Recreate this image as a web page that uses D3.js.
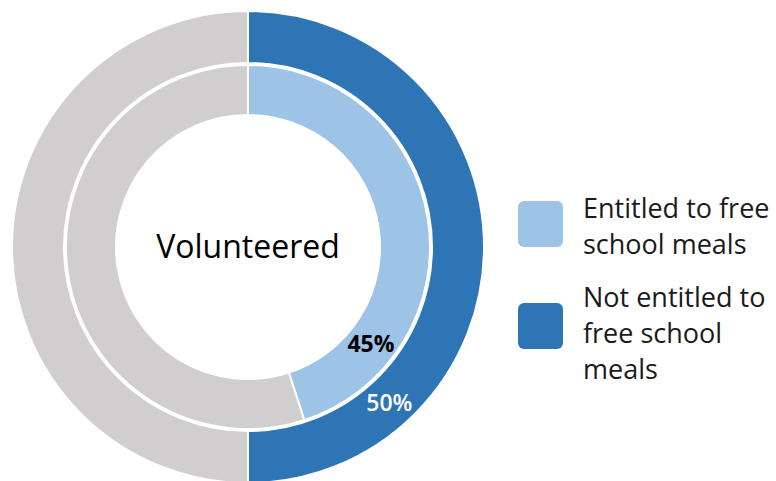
<!DOCTYPE html>
<html>
<head>
<meta charset="utf-8">
<script src="https://cdn.jsdelivr.net/npm/d3@7"></script>
<style>
  body { margin: 0; background: #fff; }
  text { font-family: "Open Sans", sans-serif; }
</style>
</head>
<body>
<div id="chart"></div>
<script>
// data
const outerLabels = ["Not entitled to free school meals", "Other"];
const outerValues = [50, 50];
const innerLabels = ["Entitled to free school meals", "Other"];
const innerValues = [45, 55];
const centerTitle = "Volunteered";
const legendLabels = [["Entitled to free", "school meals"], ["Not entitled to", "free school", "meals"]];

const W = 776, H = 481;
const cx = 248, cy = 247;
const colors = { light: "#9dc3e6", dark: "#2e75b6", grey: "#d0cecf" };

const svg = d3.select("#chart").append("svg")
    .attr("width", W)
    .attr("height", H);

const g = svg.append("g").attr("transform", `translate(${cx}, ${cy})`);

const pie = d3.pie().sort(null).value(d => d);

// outer ring
const outerArc = d3.arc().innerRadius(184).outerRadius(236);
const outerData = pie(outerValues);
g.selectAll(".outer")
    .data(outerData)
    .enter()
    .append("path")
    .attr("class", "outer")
    .attr("d", outerArc)
    .attr("fill", (d, i) => i === 0 ? colors.dark : colors.grey)
    .attr("stroke", "#fff")
    .attr("stroke-width", 2);

// inner ring
const innerArc = d3.arc().innerRadius(132).outerRadius(182);
const innerData = pie(innerValues);
g.selectAll(".inner")
    .data(innerData)
    .enter()
    .append("path")
    .attr("class", "inner")
    .attr("d", innerArc)
    .attr("fill", (d, i) => i === 0 ? colors.light : colors.grey)
    .attr("stroke", "#fff")
    .attr("stroke-width", 2);

// data labels, placed near the end of each coloured slice
function labelPos(d, r, frac) {
    const a = d.startAngle + (d.endAngle - d.startAngle) * frac;
    return [Math.sin(a) * r, -Math.cos(a) * r];
}

const p45 = labelPos(innerData[0], 156, 0.79);
g.append("text")
    .attr("x", p45[0])
    .attr("y", p45[1])
    .attr("text-anchor", "middle")
    .attr("dominant-baseline", "central")
    .style("font-size", "23px")
    .style("font-weight", "bold")
    .attr("fill", "#000")
    .text(innerValues[0] + "%");

const p50 = labelPos(outerData[0], 210, 0.765);
g.append("text")
    .attr("x", p50[0])
    .attr("y", p50[1])
    .attr("text-anchor", "middle")
    .attr("dominant-baseline", "central")
    .style("font-size", "23px")
    .style("font-weight", 600)
    .attr("fill", "#fff")
    .text(outerValues[0] + "%");

// center title
g.append("text")
    .attr("x", 0)
    .attr("y", 11)
    .attr("text-anchor", "middle")
    .style("font-size", "32px")
    .attr("fill", "#000")
    .text(centerTitle);

// legend
const legendItems = [
    { lines: legendLabels[0], color: colors.light, boxY: 201, textY: 218 },
    { lines: legendLabels[1], color: colors.dark, boxY: 303, textY: 307 }
];

const legend = svg.append("g").attr("class", "legend");
legendItems.forEach(item => {
    legend.append("rect")
        .attr("x", 518)
        .attr("y", item.boxY)
        .attr("width", 45)
        .attr("height", 46)
        .attr("rx", 6)
        .attr("fill", item.color);

    const t = legend.append("text")
        .attr("x", 583)
        .attr("y", item.textY)
        .style("font-size", "27px")
        .attr("fill", "#1a1a1a");
    t.selectAll("tspan")
        .data(item.lines)
        .enter()
        .append("tspan")
        .attr("x", 583)
        .attr("dy", (d, i) => i === 0 ? 0 : 36)
        .text(d => d);
});
</script>
</body>
</html>
